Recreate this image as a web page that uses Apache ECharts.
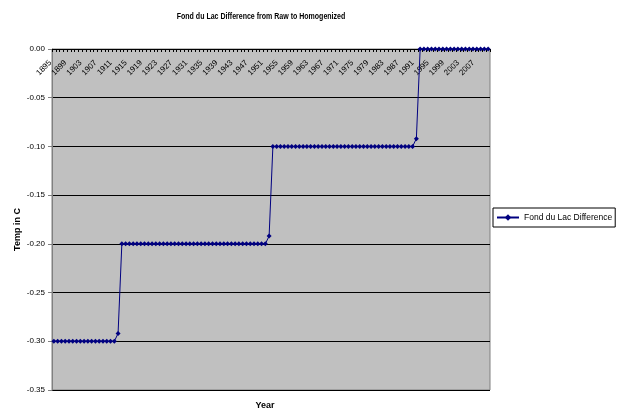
<!DOCTYPE html>
<html><head><meta charset="utf-8">
<script src="https://cdn.jsdelivr.net/npm/echarts@6/dist/echarts.min.js"></script>
<style>html,body{margin:0;padding:0;background:#fff}#c{width:619px;height:419px}</style>
</head><body><div id="c"></div>
<script>
var years = ['1895','1896','1897','1898','1899','1900','1901','1902','1903','1904','1905','1906','1907','1908','1909','1910',
'1911','1912','1913','1914','1915','1916','1917','1918','1919','1920','1921','1922','1923','1924','1925','1926','1927','1928','1929','1930',
'1931','1932','1933','1934','1935','1936','1937','1938','1939','1940','1941','1942','1943','1944','1945','1946','1947','1948','1949','1950',
'1951','1952','1953','1954','1955','1956','1957','1958','1959','1960','1961','1962','1963','1964','1965','1966','1967','1968','1969','1970',
'1971','1972','1973','1974','1975','1976','1977','1978','1979','1980','1981','1982','1983','1984','1985','1986','1987','1988','1989','1990',
'1991','1992','1993','1994','1995','1996','1997','1998','1999','2000','2001','2002','2003','2004','2005','2006','2007','2008','2009','2010'];
var difference = [
-0.30,-0.30,-0.30,-0.30,-0.30,-0.30,-0.30,-0.30,-0.30,-0.30,-0.30,-0.30,-0.30,-0.30,-0.30,-0.30,
-0.30,-0.292,-0.20,-0.20,-0.20,-0.20,-0.20,-0.20,-0.20,-0.20,-0.20,-0.20,-0.20,-0.20,-0.20,-0.20,-0.20,-0.20,-0.20,-0.20,
-0.20,-0.20,-0.20,-0.20,-0.20,-0.20,-0.20,-0.20,-0.20,-0.20,-0.20,-0.20,-0.20,-0.20,-0.20,-0.20,-0.20,-0.20,-0.20,-0.20,
-0.20,-0.192,-0.10,-0.10,-0.10,-0.10,-0.10,-0.10,-0.10,-0.10,-0.10,-0.10,-0.10,-0.10,-0.10,-0.10,-0.10,-0.10,-0.10,-0.10,
-0.10,-0.10,-0.10,-0.10,-0.10,-0.10,-0.10,-0.10,-0.10,-0.10,-0.10,-0.10,-0.10,-0.10,-0.10,-0.10,-0.10,-0.10,-0.10,-0.10,
-0.092,0,0,0,0,0,0,0,0,0,0,0,0,0,0,0,0,0,0,0];
var chartTitle = 'Fond du Lac Difference from Raw to Homogenized';
var seriesName = 'Fond du Lac Difference';
var FONT = '"Liberation Sans", Arial, sans-serif';
var chart = echarts.init(document.getElementById('c'), null, {renderer:'canvas'});
chart.setOption({
  animation:false,
  backgroundColor:'#fff',
  graphic:[{type:'text',x:261,y:17,scaleX:0.78,scaleY:1,silent:true,
    style:{text:chartTitle,fill:'#000',font:'bold 9px "Liberation Sans", Arial, sans-serif',
      textAlign:'center',textVerticalAlign:'middle'}}],
  grid:{left:52,right:129,top:49,bottom:29,show:true,backgroundColor:'#C0C0C0',borderColor:'#808080',borderWidth:1},
  legend:{orient:'vertical',left:493,top:208,data:[seriesName],
    backgroundColor:'#fff',borderColor:'#000',borderWidth:1,borderRadius:0,padding:[5,3,5,3],
    itemWidth:22,itemHeight:8,itemGap:4,
    textStyle:{fontFamily:FONT,fontSize:8.5,color:'#000'}},
  xAxis:[{type:'category',data:years,position:'top',boundaryGap:true,
    axisLine:{show:true,lineStyle:{color:'#000',width:1}},
    axisTick:{show:true,inside:true,interval:0,length:3,lineStyle:{color:'#000'}},
    axisLabel:{inside:true,rotate:45,interval:3,fontFamily:FONT,fontSize:8,color:'#000',margin:9,padding:[0,5,0,0]},
    splitLine:{show:false}},
   {type:'category',data:years,position:'bottom',boundaryGap:true,
    name:'Year',nameLocation:'middle',nameGap:11,nameMoveOverlap:false,
    nameTextStyle:{fontFamily:FONT,fontSize:9,fontWeight:'bold',color:'#000',padding:[0,12,0,0]},
    axisLine:{show:false},axisTick:{show:false},axisLabel:{show:false},splitLine:{show:false}}],
  yAxis:{type:'value',min:-0.35,max:0,interval:0.05,
    name:'Temp in C',nameLocation:'middle',nameGap:30,nameRotate:90,nameMoveOverlap:false,
    nameTextStyle:{fontFamily:FONT,fontSize:9,fontWeight:'bold',color:'#000',padding:[0,0,0,-20]},
    axisLine:{show:true,lineStyle:{color:'#808080'}},
    axisTick:{show:true,length:4,lineStyle:{color:'#808080'}},
    axisLabel:{formatter:function(v){return v.toFixed(2);},fontFamily:FONT,fontSize:8,color:'#000',margin:7},
    splitLine:{show:true,lineStyle:{color:'#000',width:1}}},
  series:[{name:seriesName,type:'line',xAxisIndex:0,data:difference,
    symbol:'diamond',symbolSize:5,showAllSymbol:true,
    lineStyle:{color:'#000080',width:1},itemStyle:{color:'#000080'}}]
});
</script></body></html>
